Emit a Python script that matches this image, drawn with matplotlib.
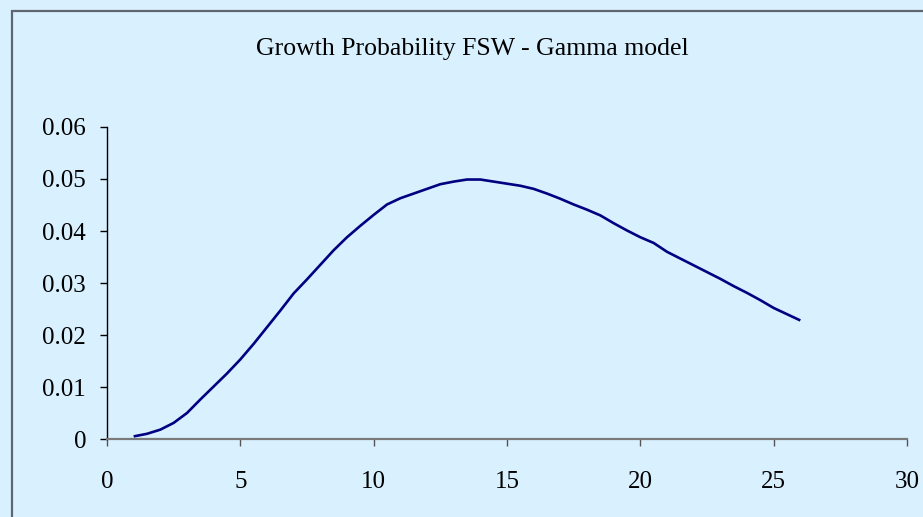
import matplotlib
matplotlib.use('Agg')
import matplotlib.pyplot as plt
from matplotlib.patches import Rectangle

plt.rcParams['font.family'] = ['Liberation Serif', 'DejaVu Serif']

# growth probability, every half step from 1 to 26
x_data = [1, 1.5, 2, 2.5, 3, 3.5, 4, 4.5, 5, 5.5, 6, 6.5, 7, 7.5, 8, 8.5, 9, 9.5,
          10, 10.5, 11, 11.5, 12, 12.5, 13, 13.5, 14, 14.5, 15, 15.5, 16, 16.5,
          17, 17.5, 18, 18.5, 19, 19.5, 20, 20.5, 21, 21.5, 22, 22.5, 23, 23.5,
          24, 24.5, 25, 25.5, 26]
y_data = [0.0005, 0.001, 0.0018, 0.0031, 0.005, 0.0076, 0.0101, 0.0126, 0.0153,
          0.0183, 0.0215, 0.0247, 0.028, 0.0307, 0.0335, 0.0363, 0.0388, 0.041,
          0.0431, 0.0451, 0.0463, 0.0472, 0.0481, 0.049, 0.0495, 0.0499, 0.0499,
          0.0495, 0.0491, 0.0487, 0.0481, 0.0472, 0.0462, 0.0451, 0.0441, 0.043,
          0.0415, 0.0401, 0.0388, 0.0377, 0.036, 0.0347, 0.0334, 0.0321, 0.0308,
          0.0294, 0.0281, 0.0267, 0.0252, 0.024, 0.0228]

x_ticks = [0, 5, 10, 15, 20, 25, 30]
y_ticks = [0, 0.01, 0.02, 0.03, 0.04, 0.05, 0.06]
y_labels = ['0', '0.01', '0.02', '0.03', '0.04', '0.05', '0.06']

bg = '#d9f1ff'
W, H = 923, 517

fig = plt.figure(figsize=(W / 100, H / 100), dpi=100, facecolor=bg)

# chart area border (runs off the right and bottom edges)
fig.patches.append(Rectangle((12 / W, -0.1), 1.2, (H - 11) / H + 0.1,
                             transform=fig.transFigure, fill=False,
                             edgecolor='#5f6670', linewidth=1.6))

ax = fig.add_axes([107 / W, (H - 439) / H, 800 / W, 312 / H])
ax.set_facecolor(bg)

ax.plot(x_data, y_data, color='#000080', linewidth=1.9, solid_capstyle='butt')

ax.set_xlim(0, 30)
ax.set_ylim(0, 0.06)
ax.set_xticks(x_ticks)
ax.set_xticklabels([str(t) for t in x_ticks])
ax.set_yticks(y_ticks)
ax.set_yticklabels(y_labels)

for s in ['top', 'right']:
    ax.spines[s].set_visible(False)
ax.spines['left'].set_color('#000000')
ax.spines['left'].set_linewidth(1.0)
ax.spines['bottom'].set_color('#7a7a7a')
ax.spines['bottom'].set_linewidth(1.6)

ax.tick_params(axis='y', direction='out', length=5, width=1.0, color='#000000',
               labelsize=18, pad=10)
ax.tick_params(axis='x', direction='out', length=5, width=1.0, color='#555555',
               labelsize=18, pad=18)

fig.text(472 / W, (H - 55) / H, 'Growth Probability FSW - Gamma model',
         ha='center', va='baseline', fontsize=18.5, color='#000000')

fig.savefig('out.png', dpi=100, facecolor=bg)
